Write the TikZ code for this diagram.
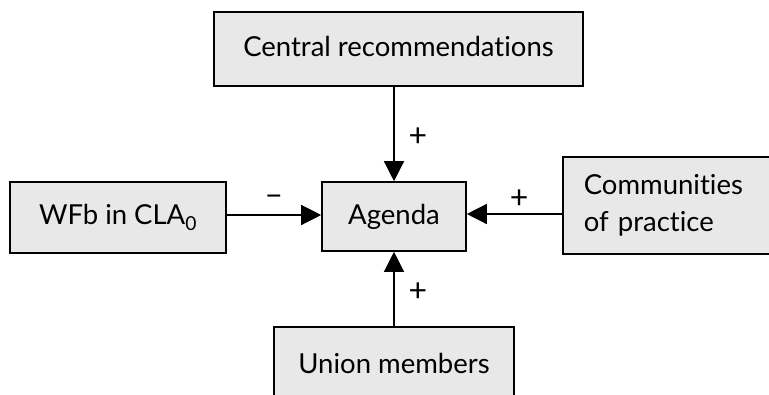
\documentclass[tikz,border=0pt]{standalone}
\usepackage{fontspec}
\setmainfont{Lato}[Ligatures=NoCommon]
\usetikzlibrary{arrows.meta}
\tikzset{
  box/.style={draw=black, line width=1.6pt, fill=black!9, inner sep=0pt,
    font=\fontsize{27.5}{37}\selectfont},
  conn/.style={line width=1.3pt, -{Triangle[length=20pt,width=20pt]}},
  sign/.style={font=\fontsize{32}{34}\selectfont, inner sep=0pt}
}
\begin{document}
\begin{tikzpicture}[x=1pt,y=-1pt]
\useasboundingbox (0,0) rectangle (769,394);
\clip (0,0) rectangle (769,394);
\node[box, minimum width=369pt, minimum height=74pt] (cr) at (398.5,49) {\raisebox{5pt}{Central recommendations}};
\node[box, minimum width=144pt, minimum height=69pt] (ag) at (394,216.5) {Agenda};
\node[box, minimum width=216pt, minimum height=71pt] (wfb) at (118,217.5) {WFb in CLA\textsubscript{0}\hspace{16pt}};
\node[box, anchor=west, text width=196pt, inner xsep=21pt, minimum height=97pt, align=left] (cp) at (562,205.5) {Communities\\of practice};
\node[box, anchor=north, minimum width=240pt, minimum height=82pt] (um) at (394,326) {\raisebox{8pt}{Union members}};
\draw[conn] (cr.south -| ag.north) -- node[sign, pos=0.53, right=14pt] {+} (ag.north);
\draw[conn] (wfb.east |- 0,215) -- node[sign, above=9pt] {--} (ag.west |- 0,215);
\draw[conn] (cp.west |- 0,214) -- node[sign, pos=0.45, above=5pt] {+} (ag.east |- 0,214);
\draw[conn] (um.north) -- node[sign, pos=0.45, right=14pt] {+} (ag.south);
\end{tikzpicture}
\end{document}
